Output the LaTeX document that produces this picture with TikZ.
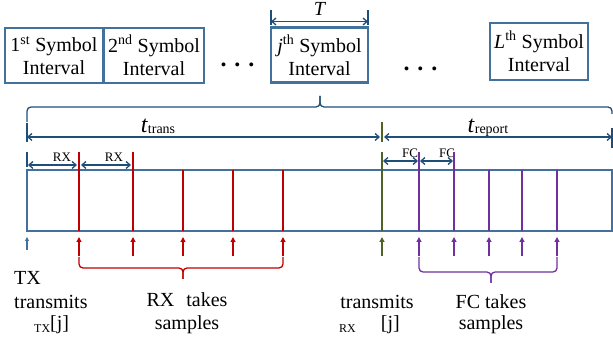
\documentclass[tikz,border=0pt]{standalone}
\usepackage{fontspec}
\setmainfont{Liberation Serif}
\usetikzlibrary{arrows.meta}
\definecolor{boxblue}{HTML}{41719C}
\definecolor{dimblue}{HTML}{1F4E79}
\definecolor{rxred}{HTML}{C00000}
\definecolor{txgreen}{HTML}{4F6228}
\definecolor{fcpurple}{HTML}{7030A0}
\tikzset{
  symbox/.style={draw=boxblue, line width=2.8pt, align=center, inner sep=0pt,
    font=\fontsize{20}{23}\selectfont},
  dimline/.style={dimblue, line width=1.3pt, {Straight Barb[length=4pt,width=7pt]}-{Straight Barb[length=4pt,width=7pt]}},
  dimtick/.style={dimblue, line width=1.3pt},
  upmark/.style={line width=1.5pt, -{Triangle[length=5pt,width=5pt]}},
  bracepath/.style={line width=1.3pt, rounded corners=4pt},
  lbl/.style={font=\fontsize{20}{23}\selectfont, inner sep=0pt},
  dots/.style={font=\fontsize{24}{24}\selectfont\bfseries, inner sep=0pt, anchor=base},
  small/.style={font=\fontsize{13}{13}\selectfont, inner sep=0pt},
}
\begin{document}
\begin{tikzpicture}[x=1pt, y=-1pt]
\useasboundingbox (0,0) rectangle (613,347);

% symbol interval boxes
\node[symbox, minimum width=98pt, minimum height=55pt] (b1) at (54,55.5)
  {1\textsuperscript{st} Symbol\\Interval};
\node[symbox, minimum width=100pt, minimum height=55pt] (b2) at (154,55.5)
  {2\textsuperscript{nd} Symbol\\Interval};
\node[symbox, minimum width=97pt, minimum height=55pt] (bj) at (319.5,55)
  {\textit{j}\textsuperscript{th} Symbol\\Interval};
\node[symbox, minimum width=98pt, minimum height=57pt] (bl) at (539,51.5)
  {\textit{L}\textsuperscript{th} Symbol\\Interval};
\node[dots] (d1) at (237.5,67) {.\hspace{8pt}.\hspace{8pt}.};
\node[dots] (d2) at (420.5,71) {.\hspace{8pt}.\hspace{8pt}.};

% symbol period T
\coordinate (tl0) at (271,10); \coordinate (tl1) at (271,25);
\coordinate (tr0) at (368,10); \coordinate (tr1) at (368,25);
\draw[dimtick] (tl0) -- (tl1);
\draw[dimtick] (tr0) -- (tr1);
\coordinate (ta) at (271,21.5); \coordinate (tb) at (368,21.5);
\draw[dimline] (ta) -- (tb);
\node[lbl] (tlab) at (320,9) {\textit{T}};

% brace that expands the j-th interval
\coordinate (bra) at (27,122); \coordinate (brb) at (612,114);
\coordinate (brm) at (320,107); \coordinate (brt) at (320,96);
\draw[dimblue, bracepath] (bra) -- (27,107) -- (brm) -- (brt);
\draw[dimblue, bracepath] (brb) -- (612,107) -- (brm) -- (brt);

% t_trans and t_report
\coordinate (s0) at (27,123); \coordinate (s1) at (27,142);
\draw[dimtick] (s0) -- (s1);
\coordinate (e0) at (612,128); \coordinate (e1) at (612,148);
\draw[dimtick] (e0) -- (e1);
\coordinate (g0) at (382,122); \coordinate (g1) at (382,142);
\draw[txgreen, line width=1.3pt] (g0) -- (g1);
\coordinate (ttA) at (27,137); \coordinate (ttB) at (380,137);
\coordinate (trA) at (384,137); \coordinate (trB) at (612,137);
\draw[dimline] (ttA) -- (ttB);
\draw[dimline] (trA) -- (trB);
\node[inner sep=0pt, anchor=base] (ttrans) at (158,133)
  {\fontsize{24}{24}\selectfont\textit{t}\raisebox{-1pt}{\fontsize{14}{14}\selectfont trans}};
\node[inner sep=0pt, anchor=base] (treport) at (488,133)
  {\fontsize{24}{24}\selectfont\textit{t}\raisebox{-1pt}{\fontsize{14}{14}\selectfont report}};

% the time line
\node[draw=boxblue, line width=2.8pt, minimum width=585pt, minimum height=61pt,
  inner sep=0pt] (tline) at (319.5,200.5) {};

% spacing dimensions
\coordinate (r0) at (27,152); \coordinate (r1) at (27,167);
\draw[dimtick] (r0) -- (r1);
\draw[dimline] (28,165) -- (77,165);
\draw[dimline] (81,165) -- (131,165);
\node[small] (rx1) at (62,157) {RX};
\node[small] (rx2) at (114,157) {RX};
\draw[dimline] (383,161) -- (418,161);
\draw[dimline] (420,161) -- (453,161);
\node[small] (fc1) at (410,153) {FC};
\node[small] (fc2) at (447,153) {FC};

% RX sampling instants
\foreach \x/\t in {79/152,133/152,183/170,233/170,283/170}{
  \draw[rxred, line width=1.5pt] (\x,\t) -- (\x,231);
  \draw[rxred, upmark] (\x,256) -- (\x,237);
}
% RX transmission instant
\draw[txgreen, line width=1.5pt] (382,152) -- (382,231);
\draw[txgreen, upmark] (382,256) -- (382,237);
% FC sampling instants
\foreach \x/\t in {419/152,454/152,489/170,522/170,557/170}{
  \draw[fcpurple, line width=1.5pt] (\x,\t) -- (\x,231);
  \draw[fcpurple, upmark] (\x,256) -- (\x,237);
}
% TX transmission instant
\draw[boxblue, line width=1.3pt, -{Triangle[length=4pt,width=4pt]}] (27,250) -- (27,237);

% braces grouping the samples
\coordinate (rbm) at (183,268); \coordinate (rbt) at (183,279);
\draw[rxred, bracepath] (79,257) -- (79,268) -- (rbm) -- (rbt);
\draw[rxred, bracepath] (283,257) -- (283,268) -- (rbm) -- (rbt);
\coordinate (pbm) at (491,272); \coordinate (pbt) at (491,283);
\draw[fcpurple, bracepath] (419,257) -- (419,272) -- (pbm) -- (pbt);
\draw[fcpurple, bracepath] (557,257) -- (557,272) -- (pbm) -- (pbt);

% captions
\node[lbl, anchor=west] (c1) at (14,278) {TX};
\node[lbl, anchor=west] (c2) at (14,302) {transmits};
\node[lbl, anchor=west] (c3) at (34,325)
  {\raisebox{-3pt}{\fontsize{12}{12}\selectfont TX}[j]};
\node[lbl] (c4) at (187,300) {RX\hspace{12pt}takes};
\node[lbl] (c5) at (187,325) {samples};
\node[lbl] (c6) at (377,302) {transmits};
\node[lbl, anchor=west] (c7) at (339,325)
  {\raisebox{-3pt}{\fontsize{12}{12}\selectfont RX}\hspace{25pt}[j]};
\node[lbl] (c8) at (491,302) {FC takes};
\node[lbl] (c9) at (491,325) {samples};
\end{tikzpicture}
\end{document}
